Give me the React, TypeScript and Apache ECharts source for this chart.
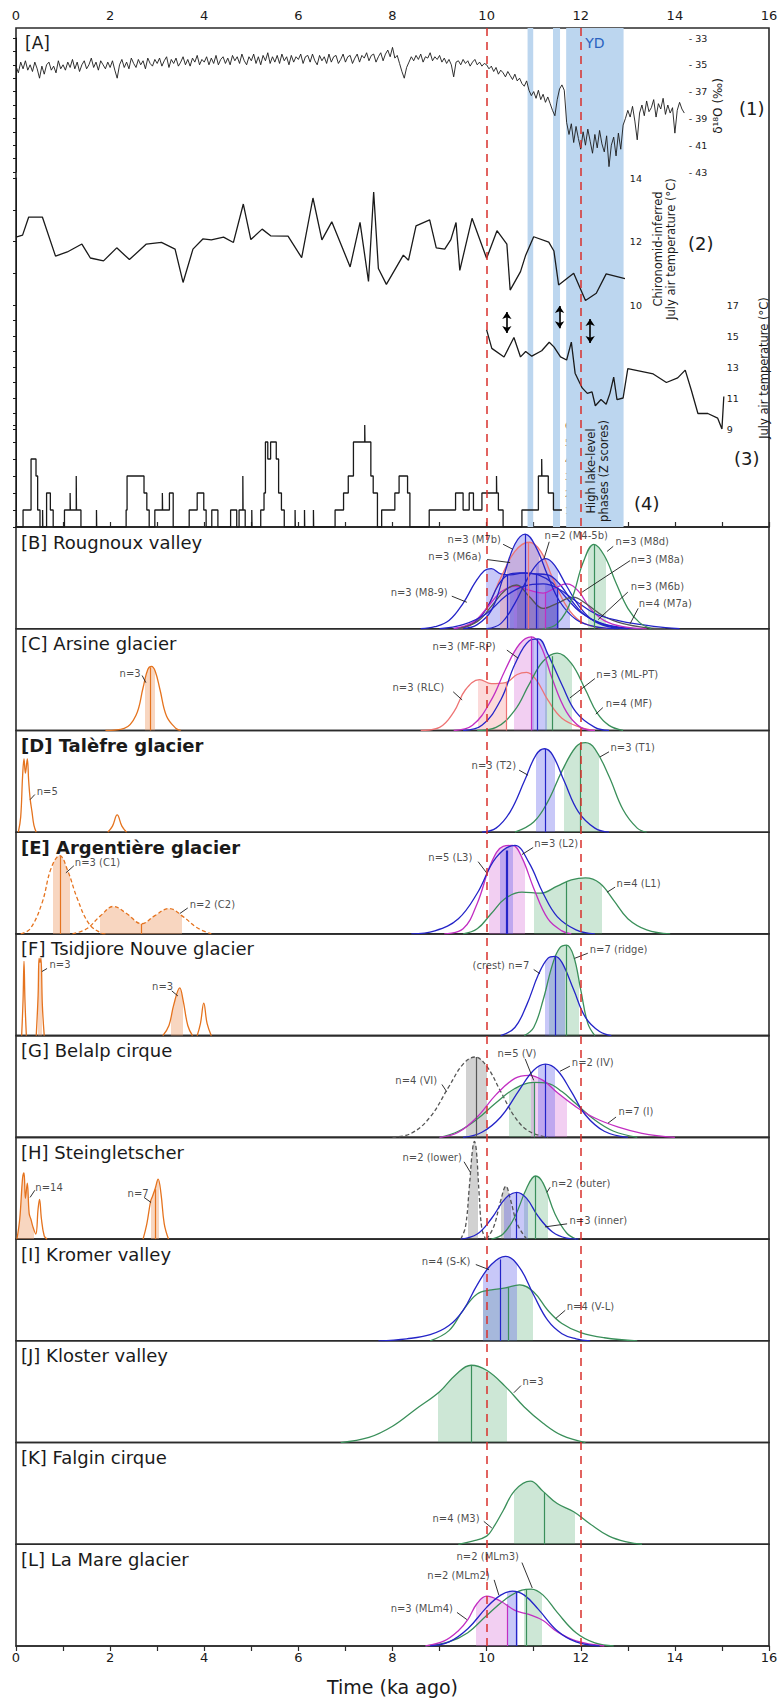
import React, { useEffect, useRef } from "react";
import * as echarts from "echarts";

// ---------------- Panel A data ----------------
const D18O_X0 = 0;
const D18O_DX = 0.05;
const D18O_VALUES = [
  35.1,35.6,34.8,35.3,34.7,35.4,35.0,35.5,34.8,35.3,36.0,35.1,35.7,35.0,34.8,35.4,35.1,35.6,34.7,35.3,
  35.0,35.4,34.8,35.2,34.6,35.3,34.8,35.5,35.0,34.7,35.3,35.0,34.5,35.2,34.8,35.4,34.7,35.0,35.3,34.8,
  35.2,34.7,35.4,36.0,35.0,34.6,35.2,34.8,35.3,34.5,34.9,35.2,34.6,35.0,34.7,35.3,34.5,34.9,35.1,34.6,
  34.9,34.5,35.1,34.7,34.4,35.2,34.6,34.9,34.5,35.1,34.8,34.4,35.0,34.6,35.1,34.5,34.8,34.3,35.0,34.6,
  34.8,34.4,35.0,34.5,34.9,34.3,35.0,34.6,34.4,34.9,34.5,35.0,34.3,34.7,34.4,34.9,34.2,34.7,35.0,34.4,
  34.7,34.2,34.9,34.4,35.0,34.3,34.7,34.1,34.9,34.4,34.8,34.3,34.9,34.2,34.7,34.4,35.0,34.3,34.8,34.4,
  34.6,34.2,34.9,34.4,34.3,34.8,34.2,34.7,35.0,34.3,34.7,34.4,34.9,34.2,34.8,34.4,34.3,34.9,34.6,34.2,
  34.8,34.4,34.3,34.9,34.5,34.2,34.8,34.3,34.5,34.1,34.7,34.3,34.2,34.8,34.4,34.1,34.7,34.2,33.9,34.4,
  33.7,34.5,34.3,34.9,35.5,36.0,35.2,34.8,34.4,34.7,34.3,34.6,34.2,34.8,34.4,34.5,34.1,34.7,34.4,34.6,
  34.3,34.8,34.5,34.9,34.6,35.0,35.9,34.8,34.7,35.0,34.6,34.9,34.7,35.1,34.8,34.6,35.0,34.8,35.1,34.9,
  35.0,35.3,35.1,35.5,35.2,35.7,35.4,35.6,35.9,35.5,35.8,36.1,35.7,36.2,36.0,36.4,36.6,36.2,36.9,37.3,
  37.0,37.5,36.9,37.6,37.2,37.8,37.4,37.9,38.4,38.8,37.6,36.8,36.5,36.9,39.3,40.2,39.4,40.8,39.6,40.5,
  41.3,40.0,41.0,39.8,40.7,41.6,40.2,41.2,39.9,40.9,41.5,40.3,42.6,41.0,40.4,41.8,40.1,41.3,39.5,39.0,
  38.4,38.9,38.1,39.2,40.6,38.6,38.0,38.8,37.7,38.5,38.2,37.6,38.9,37.9,38.3,37.5,38.7,38.0,38.6,38.2,
  40.1,38.4,37.8,38.3,38.6,
];
const CHIRONOMID_T = [
  [0,12.14],[0.14,12.2],[0.27,12.77],[0.56,12.77],[0.84,11.54],[1.09,11.67],[1.4,11.92],[1.58,11.48],
  [1.86,11.39],[2.14,11.8],[2.41,11.43],[2.77,11.92],[3.09,11.97],[3.38,11.76],[3.55,10.71],[3.76,11.76],
  [3.97,12.08],[4.15,12.05],[4.41,12.14],[4.62,11.97],[4.83,13.18],[4.99,12.06],[5.23,12.39],[5.41,12.18],
  [5.78,12.17],[6.07,11.49],[6.31,13.37],[6.5,12.05],[6.71,12.62],[7.1,11.2],[7.31,12.6],[7.49,10.74],
  [7.6,13.56],[7.7,11.15],[7.87,10.65],[8.23,11.57],[8.34,11.41],[8.5,12.49],[8.79,12.68],[8.93,11.8],
  [9.11,11.76],[9.24,12.06],[9.35,12.6],[9.43,11.09],[9.69,12.73],[10.0,11.47],[10.22,12.34],[10.43,11.92],
  [10.5,10.47],[10.72,11.05],[10.83,11.57],[11.0,12.15],[11.32,11.98],[11.43,11.7],[11.53,10.63],[11.85,11.0],
  [12.1,10.14],[12.33,10.37],[12.54,10.98],[12.94,10.83],
];
const JULY_T = [
  [10.0,15.4],[10.11,14.2],[10.37,13.65],[10.58,14.9],[10.72,13.65],[10.83,14.0],[10.96,13.7],[11.17,14.05],
  [11.33,14.6],[11.43,14.3],[11.57,13.65],[11.7,13.45],[11.8,14.6],[11.88,12.6],[12.03,11.65],[12.14,11.3],
  [12.24,11.4],[12.31,10.5],[12.43,10.9],[12.54,10.6],[12.62,11.3],[12.7,12.35],[12.77,10.9],[12.9,11.0],
  [13.0,12.9],[13.54,12.55],[13.82,12.0],[14.06,12.3],[14.22,12.8],[14.35,11.5],[14.49,10.0],[14.7,10.0],
  [14.91,9.7],[15.0,9.0],[15.04,11.1],
];
const LAKE_LEVEL = [
  [0,0],[0.15,1],[0.32,4],[0.425,3],[0.46,1],[0.51,0],[0.565,1],[0.57,0],[0.65,2],[0.73,1],[0.79,0],
  [1.03,1],[1.15,2],[1.155,1],[1.28,3],[1.285,1],[1.38,0],[1.71,1],[1.715,0],[2.34,1],[2.36,3],[2.72,2],
  [2.78,1],[2.83,0],[2.95,1],[3.11,2],[3.115,1],[3.26,2],[3.34,0],[3.68,1],[3.85,2],[3.99,1],[4.04,0],
  [4.16,1],[4.29,0],[4.56,1],[4.69,0],[4.74,1],[4.82,3],[4.825,1],[4.87,0],[5.01,1],[5.015,0],[5.2,1],
  [5.27,2],[5.3,5],[5.35,4],[5.41,5],[5.53,4],[5.58,2],[5.64,1],[5.7,0],[5.93,1],[5.935,0],[6.13,1],
  [6.135,0],[6.32,1],[6.325,0],[6.78,1],[6.96,2],[7.06,3],[7.17,5],[7.41,6],[7.415,5],[7.54,3],[7.59,2],
  [7.68,0],[7.77,1],[8.05,2],[8.14,3],[8.32,2],[8.37,0],[8.78,1],[9.34,2],[9.5,1],[9.63,2],[9.72,1],
  [9.9,2],[10.21,3],[10.215,2],[10.25,1],[10.35,0],[10.75,1],[11.1,3],[11.17,4],[11.175,3],[11.31,2],
  [11.42,1],[11.6,1],
];
const BLUE_BANDS = [[10.87, 10.99], [11.41, 11.56], [11.69, 12.91]];
const REF_AGES = [10, 12];
const ARROWS = [[10.43, 16.55, 15.19], [11.55, 16.94, 15.5], [12.2, 16.1, 14.55]];
const D18O_RANGE = [33, 43];
const CHIRO_RANGE = [10, 14];
const JULY_RANGE = [9, 17];
const LAKE_RANGE = [0, 6];
const SUBAXIS_END_KA = { d18o: 14.23, chiro: 12.98, july: 15.04, lake: 11.6 };

// ---------------- Panels B-L: probability curves [ka, relative density] ----------------
const B_M89 = [[8.6,0],[8.9,0.02],[9.2,0.08],[9.5,0.25],[9.75,0.45],[9.95,0.57],[10.1,0.59],[10.3,0.54],[10.5,0.53],[10.8,0.55],[11.1,0.53],[11.4,0.45],[11.7,0.3],[12.0,0.16],[12.4,0.06],[12.9,0.01],[13.3,0]];
const B_M7B = [[9.5,0],[9.8,0.04],[10.1,0.18],[10.35,0.5],[10.6,0.83],[10.82,0.93],[11.05,0.8],[11.3,0.52],[11.55,0.27],[11.9,0.09],[12.3,0.02],[12.8,0]];
const B_RED = [[9.4,0],[9.7,0.05],[10.0,0.2],[10.3,0.5],[10.6,0.76],[10.9,0.85],[11.15,0.76],[11.4,0.5],[11.7,0.22],[12.0,0.07],[12.4,0.01],[12.7,0]];
const B_M6A = [[9.3,0],[9.7,0.05],[10.0,0.2],[10.25,0.43],[10.45,0.53],[10.7,0.55],[11.0,0.54],[11.3,0.53],[11.55,0.44],[11.8,0.28],[12.1,0.13],[12.5,0.04],[13.0,0]];
const B_M45B = [[10.0,0],[10.3,0.05],[10.6,0.25],[10.9,0.52],[11.1,0.65],[11.26,0.69],[11.45,0.62],[11.7,0.42],[12.0,0.2],[12.3,0.07],[12.7,0.01],[13.0,0]];
const B_M8A = [[9.3,0],[9.7,0.06],[10.0,0.2],[10.3,0.36],[10.6,0.42],[10.9,0.38],[11.2,0.35],[11.45,0.4],[11.7,0.44],[11.95,0.37],[12.2,0.2],[12.5,0.08],[12.9,0.02],[13.4,0]];
const B_M6B = [[9.4,0],[9.8,0.07],[10.1,0.22],[10.4,0.38],[10.64,0.43],[10.9,0.32],[11.2,0.2],[11.5,0.25],[11.84,0.31],[12.1,0.25],[12.5,0.12],[12.9,0.05],[13.4,0.01],[13.8,0]];
const B_M7A = [[9.0,0],[9.5,0.04],[10.0,0.15],[10.4,0.32],[10.8,0.42],[11.2,0.44],[11.5,0.4],[11.9,0.27],[12.3,0.15],[12.8,0.08],[13.3,0.04],[13.8,0.01],[14.1,0]];
const B_M8D = [[11.2,0],[11.5,0.05],[11.8,0.28],[12.05,0.65],[12.28,0.83],[12.5,0.72],[12.75,0.45],[13.0,0.2],[13.25,0.06],[13.5,0]];

const C_N3 = [[1.9,0],[2.3,0.02],[2.55,0.15],[2.7,0.42],[2.8,0.6],[2.88,0.63],[2.96,0.58],[3.06,0.4],[3.2,0.14],[3.4,0.02],[3.5,0]];
const C_RLC = [[8.6,0],[9.0,0.03],[9.3,0.18],[9.55,0.4],[9.85,0.5],[10.1,0.46],[10.4,0.47],[10.65,0.55],[10.85,0.57],[11.05,0.5],[11.3,0.3],[11.6,0.12],[12.0,0.03],[12.3,0]];
const C_MFRP = [[9.3,0],[9.7,0.05],[10.1,0.3],[10.4,0.6],[10.7,0.85],[10.95,0.92],[11.15,0.83],[11.4,0.5],[11.7,0.18],[12.0,0.03],[12.3,0]];
const C_MLPT = [[9.5,0],[9.9,0.05],[10.3,0.3],[10.6,0.65],[10.9,0.88],[11.1,0.9],[11.3,0.75],[11.6,0.45],[11.9,0.18],[12.3,0.03],[12.6,0]];
const C_MF = [[9.8,0],[10.2,0.03],[10.6,0.2],[10.9,0.45],[11.2,0.68],[11.5,0.76],[11.8,0.66],[12.1,0.4],[12.35,0.17],[12.6,0.05],[12.9,0]];

const D_N5 = [[0.05,0],[0.1,0.15],[0.14,0.55],[0.17,0.72],[0.2,0.58],[0.24,0.72],[0.27,0.5],[0.3,0.33],[0.34,0.2],[0.38,0.07],[0.43,0]];
const D_SMALL = [[1.95,0],[2.05,0.06],[2.15,0.17],[2.25,0.06],[2.35,0]];
const D_T2 = [[9.9,0],[10.2,0.04],[10.5,0.2],[10.8,0.5],[11.05,0.76],[11.23,0.82],[11.4,0.76],[11.65,0.5],[11.95,0.2],[12.3,0.04],[12.6,0]];
const D_T1 = [[10.6,0],[11.0,0.1],[11.3,0.3],[11.6,0.6],[11.9,0.84],[12.1,0.88],[12.3,0.82],[12.6,0.55],[12.9,0.22],[13.2,0.04],[13.4,0]];

const E_C1 = [[0.1,0],[0.3,0.05],[0.55,0.3],[0.75,0.65],[0.93,0.77],[1.1,0.62],[1.3,0.35],[1.55,0.1],[1.8,0.01],[1.9,0]];
const E_C2 = [[1.2,0],[1.5,0.05],[1.8,0.18],[2.07,0.27],[2.35,0.2],[2.67,0.1],[2.95,0.18],[3.25,0.25],[3.55,0.17],[3.85,0.06],[4.15,0]];
const E_L3 = [[9.1,0],[9.5,0.05],[9.8,0.3],[10.1,0.7],[10.35,0.86],[10.55,0.87],[10.75,0.75],[11.0,0.45],[11.3,0.15],[11.6,0.03],[11.8,0]];
const E_L2 = [[8.4,0],[8.9,0.03],[9.4,0.15],[9.8,0.4],[10.2,0.75],[10.6,0.87],[10.9,0.7],[11.2,0.4],[11.5,0.17],[11.9,0.04],[12.3,0]];
const E_L1 = [[9.5,0],[9.8,0.05],[10.1,0.2],[10.4,0.35],[10.75,0.41],[11.15,0.4],[11.5,0.47],[11.8,0.53],[12.1,0.55],[12.4,0.5],[12.7,0.33],[13.0,0.15],[13.4,0.04],[13.9,0]];

const F_A = [[0.12,0],[0.15,0.35],[0.17,0.73],[0.19,0.35],[0.22,0]];
const F_B = [[0.43,0],[0.47,0.4],[0.49,0.76],[0.51,0.72],[0.53,0.76],[0.56,0.3],[0.6,0]];
const F_C = [[3.12,0],[3.25,0.1],[3.35,0.3],[3.48,0.47],[3.55,0.35],[3.65,0.1],[3.75,0]];
const F_D = [[3.85,0],[3.92,0.12],[3.99,0.32],[4.06,0.12],[4.15,0]];
const F_CREST = [[10.3,0],[10.6,0.08],[10.85,0.3],[11.1,0.6],[11.3,0.76],[11.45,0.78],[11.6,0.72],[11.85,0.45],[12.1,0.18],[12.4,0.04],[12.65,0]];
const F_RIDGE = [[10.8,0],[11.0,0.08],[11.2,0.35],[11.4,0.7],[11.55,0.86],[11.7,0.89],[11.85,0.78],[12.0,0.45],[12.15,0.12],[12.3,0]];

const G_VI = [[8.0,0],[8.4,0.04],[8.8,0.2],[9.2,0.5],[9.5,0.72],[9.75,0.79],[10.0,0.7],[10.3,0.45],[10.6,0.2],[10.9,0.06],[11.3,0]];
const G_I = [[9.0,0],[9.4,0.05],[9.8,0.2],[10.2,0.42],[10.6,0.58],[10.9,0.61],[11.2,0.56],[11.5,0.44],[11.9,0.3],[12.3,0.19],[12.8,0.1],[13.3,0.04],[14.0,0]];
const G_V = [[9.0,0],[9.4,0.06],[9.8,0.18],[10.2,0.34],[10.6,0.48],[11.0,0.54],[11.3,0.53],[11.6,0.45],[11.9,0.33],[12.3,0.17],[12.7,0.06],[13.2,0]];
const G_IV = [[9.5,0],[9.9,0.05],[10.3,0.2],[10.7,0.47],[11.0,0.66],[11.25,0.72],[11.5,0.66],[11.8,0.45],[12.1,0.22],[12.5,0.06],[13.0,0]];

const H_N14 = [[0.02,0],[0.08,0.2],[0.14,0.6],[0.17,0.65],[0.2,0.4],[0.24,0.55],[0.28,0.25],[0.32,0.19],[0.36,0.12],[0.42,0.05],[0.47,0.3],[0.5,0.39],[0.54,0.2],[0.6,0.03],[0.66,0]];
const H_N7 = [[2.7,0],[2.78,0.15],[2.86,0.37],[2.9,0.42],[2.96,0.5],[3.02,0.59],[3.08,0.45],[3.15,0.15],[3.24,0]];
const H_LOWER1 = [[9.45,0],[9.55,0.12],[9.63,0.5],[9.7,0.88],[9.74,0.96],[9.78,0.88],[9.84,0.45],[9.9,0.1],[9.98,0]];
const H_LOWER2 = [[10.0,0],[10.15,0.12],[10.3,0.38],[10.41,0.52],[10.5,0.4],[10.65,0.15],[10.85,0]];
const H_INNER = [[9.45,0],[9.8,0.05],[10.1,0.2],[10.4,0.4],[10.64,0.46],[10.85,0.4],[11.1,0.22],[11.4,0.07],[11.7,0.01],[11.95,0]];
const H_OUTER = [[10.1,0],[10.35,0.05],[10.6,0.22],[10.85,0.5],[11.04,0.62],[11.2,0.55],[11.45,0.25],[11.7,0.06],[11.9,0]];

const I_SK = [[7.7,0],[8.3,0.02],[8.8,0.06],[9.2,0.15],[9.5,0.3],[9.8,0.55],[10.1,0.75],[10.4,0.83],[10.7,0.72],[11.0,0.45],[11.3,0.2],[11.6,0.07],[11.9,0.02],[12.2,0]];
const I_VL = [[8.8,0],[9.2,0.1],[9.5,0.3],[9.8,0.46],[10.1,0.5],[10.4,0.52],[10.7,0.55],[11.0,0.48],[11.3,0.3],[11.6,0.17],[12.0,0.08],[12.5,0.03],[13.2,0]];

const J_N3 = [[6.9,0],[7.5,0.05],[8.0,0.16],[8.5,0.33],[9.0,0.5],[9.35,0.67],[9.67,0.76],[10.0,0.71],[10.4,0.55],[10.8,0.35],[11.2,0.19],[11.6,0.07],[12.1,0]];
const K_M3 = [[9.4,0],[9.7,0.03],[10.0,0.08],[10.15,0.17],[10.35,0.33],[10.6,0.53],[10.93,0.62],[11.2,0.52],[11.5,0.4],[11.85,0.32],[12.2,0.2],[12.6,0.08],[13.0,0.02],[13.3,0]];

const L_MLM4 = [[8.7,0],[9.1,0.05],[9.4,0.15],[9.6,0.26],[9.8,0.42],[10.0,0.49],[10.3,0.44],[10.6,0.35],[10.9,0.31],[11.2,0.25],[11.5,0.14],[11.9,0.05],[12.5,0]];
const L_MLM2 = [[8.8,0],[9.2,0.04],[9.6,0.17],[10.0,0.38],[10.3,0.5],[10.55,0.54],[10.8,0.5],[11.1,0.36],[11.5,0.15],[11.9,0.04],[12.4,0]];
const L_MLM3 = [[8.7,0],[9.2,0.04],[9.6,0.13],[10.0,0.3],[10.4,0.46],[10.75,0.55],[10.95,0.56],[11.2,0.5],[11.5,0.33],[11.9,0.13],[12.3,0.03],[12.7,0]];

const PANEL_TITLES = [
  "[B] Rougnoux valley", "[C] Arsine glacier", "[D] Talèfre glacier", "[E] Argentière glacier",
  "[F] Tsidjiore Nouve glacier", "[G] Belalp cirque", "[H] Steingletscher", "[I] Kromer valley",
  "[J] Kloster valley", "[K] Falgin cirque", "[L] La Mare glacier",
];
const BOLD_PANELS = [2, 3];

// curve -> panel, colour family, shaded age range, and mean age with the curve's density there
const CURVES: any[] = [
  { p: 0, d: B_M89, c: "blue", fill: [9.99, 10.9], mean: [10.44, 0.53] },
  { p: 0, d: B_RED, c: "salmon", fill: [10.3, 11.45], mean: [10.89, 0.85] },
  { p: 0, d: B_M6A, c: "blue", fill: [10.5, 11.5], mean: [11.06, 0.54] },
  { p: 0, d: B_M8A, c: "magenta", fill: [10.6, 11.25], mean: [11.25, 0.36] },
  { p: 0, d: B_M6B, c: "gray", fill: [10.65, 11.5] },
  { p: 0, d: B_M7A, c: "blue", fill: [11.25, 11.75], mean: [11.5, 0.4] },
  { p: 0, d: B_M45B, c: "blue", fill: [11.06, 11.5] },
  { p: 0, d: B_M7B, c: "blue", fill: [10.45, 11.1], mean: [10.82, 0.93] },
  { p: 0, d: B_M8D, c: "green", fill: [12.16, 12.5], mean: [12.28, 0.83] },
  { p: 1, d: C_N3, c: "orange", fill: [2.75, 2.93], mean: [2.85, 0.62] },
  { p: 1, d: C_RLC, c: "salmon", fill: [9.83, 10.41], mean: [10.41, 0.47] },
  { p: 1, d: C_MF, c: "green", fill: [11.25, 11.8], mean: [11.4, 0.73] },
  { p: 1, d: C_MFRP, c: "magenta", fill: [10.6, 11.0], mean: [10.95, 0.92] },
  { p: 1, d: C_MLPT, c: "blue", fill: [10.95, 11.25], mean: [11.08, 0.9] },
  { p: 2, d: D_N5, c: "orange" },
  { p: 2, d: D_SMALL, c: "orange" },
  { p: 2, d: D_T1, c: "green", fill: [11.66, 12.38], mean: [11.99, 0.86] },
  { p: 2, d: D_T2, c: "blue", fill: [11.06, 11.43], mean: [11.24, 0.82] },
  { p: 3, d: E_C1, c: "orange", dashed: true, fill: [0.8, 1.12], mean: [0.93, 0.77] },
  { p: 3, d: E_C2, c: "orange", dashed: true, fill: [1.79, 3.51], mean: [2.67, 0.1] },
  { p: 3, d: E_L1, c: "green", fill: [11.01, 12.43], mean: [11.69, 0.51] },
  { p: 3, d: E_L3, c: "magenta", fill: [10.06, 10.8] },
  { p: 3, d: E_L2, c: "blue", fill: [10.3, 10.55], mean: [10.43, 0.82], meanWidth: 2.2 },
  { p: 4, d: F_A, c: "orange" },
  { p: 4, d: F_B, c: "orange", fill: [0.47, 0.53] },
  { p: 4, d: F_C, c: "orange", fill: [3.3, 3.52] },
  { p: 4, d: F_D, c: "orange" },
  { p: 4, d: F_RIDGE, c: "green", fill: [11.33, 11.93], mean: [11.69, 0.89] },
  { p: 4, d: F_CREST, c: "blue", fill: [11.25, 11.64], mean: [11.45, 0.78] },
  { p: 5, d: G_VI, c: "gray", dashed: true, fill: [9.58, 10.0], mean: [9.77, 0.79] },
  { p: 5, d: G_V, c: "green", fill: [10.48, 11.01], mean: [11.01, 0.54] },
  { p: 5, d: G_I, c: "magenta", fill: [10.95, 11.69] },
  { p: 5, d: G_IV, c: "blue", fill: [11.11, 11.43], mean: [11.25, 0.72] },
  { p: 6, d: H_N14, c: "orange", fill: [0.05, 0.35] },
  { p: 6, d: H_N7, c: "orange", fill: [2.88, 3.02], mean: [2.95, 0.49] },
  { p: 6, d: H_LOWER1, c: "gray", dashed: true, fill: [9.62, 9.8] },
  { p: 6, d: H_LOWER2, c: "gray", dashed: true, fill: [10.32, 10.5] },
  { p: 6, d: H_OUTER, c: "green", fill: [10.8, 11.28], mean: [11.04, 0.62] },
  { p: 6, d: H_INNER, c: "blue", fill: [10.37, 10.85], mean: [10.64, 0.46] },
  { p: 7, d: I_VL, c: "green", fill: [9.94, 10.97], mean: [10.45, 0.525] },
  { p: 7, d: I_SK, c: "blue", fill: [9.94, 10.64], mean: [10.3, 0.8] },
  { p: 8, d: J_N3, c: "green", fill: [8.97, 10.41], mean: [9.67, 0.76] },
  { p: 9, d: K_M3, c: "green", fill: [10.59, 11.85], mean: [11.22, 0.51] },
  { p: 10, d: L_MLM3, c: "green", fill: [10.81, 11.16], mean: [10.84, 0.555] },
  { p: 10, d: L_MLM4, c: "magenta", fill: [9.79, 10.43], mean: [10.43, 0.41] },
  { p: 10, d: L_MLM2, c: "blue", fill: [10.45, 10.65], mean: [10.64, 0.53] },
];

// [text, textKa, textH, leaderKa1, leaderH1, leaderKa2, leaderH2]
const ANNOTATIONS: any[][] = [
  [
    ["n=3 (M7b)", 9.16, 0.875, 10.35, 0.83, 10.56, 0.78],
    ["n=2 (M4-5b)", 11.22, 0.915, 11.33, 0.855, 11.22, 0.69],
    ["n=3 (M8d)", 12.73, 0.855, 12.69, 0.81, 12.56, 0.76],
    ["n=3 (M6a)", 8.75, 0.71, 10.01, 0.68, 10.5, 0.65],
    ["n=3 (M8a)", 13.05, 0.68, 13.05, 0.67, 12.03, 0.36],
    ["n=3 (M8-9)", 7.95, 0.36, 9.26, 0.32, 9.58, 0.26],
    ["n=3 (M6b)", 13.05, 0.42, 13.0, 0.36, 12.37, 0.09],
    ["n=4 (M7a)", 13.22, 0.245, 13.22, 0.2, 13.05, 0.05],
  ],
  [
    ["n=3 (MF-RP)", 8.84, 0.826, 10.43, 0.79, 10.67, 0.71],
    ["n=3 (RLC)", 7.99, 0.42, 9.29, 0.38, 9.48, 0.3],
    ["n=3 (ML-PT)", 12.32, 0.55, 12.3, 0.51, 11.77, 0.32],
    ["n=4 (MF)", 12.52, 0.265, 12.47, 0.225, 12.32, 0.16],
    ["n=3", 2.19, 0.56, 2.68, 0.54, 2.76, 0.47],
  ],
  [
    ["n=5", 0.43, 0.4, 0.4, 0.37, 0.3, 0.32],
    ["n=3 (T2)", 9.67, 0.66, 10.69, 0.61, 10.88, 0.56],
    ["n=3 (T1)", 12.62, 0.835, 12.6, 0.79, 12.41, 0.74],
  ],
  [
    ["n=3 (C1)", 1.24, 0.7, 1.23, 0.67, 1.06, 0.6],
    ["n=2 (C2)", 3.68, 0.285, 3.65, 0.255, 3.48, 0.2],
    ["n=5 (L3)", 8.75, 0.75, 9.82, 0.71, 10.0, 0.6],
    ["n=3 (L2)", 11.0, 0.885, 10.99, 0.85, 10.75, 0.78],
    ["n=4 (L1)", 12.75, 0.5, 12.73, 0.46, 12.56, 0.41],
  ],
  [
    ["n=3", 0.7, 0.7, 0.66, 0.66, 0.55, 0.63],
    ["n=3", 2.88, 0.48, 3.31, 0.44, 3.44, 0.39],
    ["(crest) n=7", 9.69, 0.69, 11.0, 0.65, 11.13, 0.61],
    ["n=7 (ridge)", 12.18, 0.85, 12.15, 0.81, 11.87, 0.76],
  ],
  [
    ["n=4 (VI)", 8.05, 0.56, 9.05, 0.52, 9.15, 0.45],
    ["n=5 (V)", 10.22, 0.82, 10.82, 0.77, 11.0, 0.56],
    ["n=2 (IV)", 11.8, 0.74, 11.77, 0.7, 11.56, 0.65],
    ["n=7 (I)", 12.79, 0.25, 12.75, 0.2, 12.58, 0.14],
  ],
  [
    ["n=14", 0.4, 0.51, 0.4, 0.48, 0.3, 0.41],
    ["n=7", 2.36, 0.45, 2.72, 0.41, 2.87, 0.36],
    ["n=2 (lower)", 8.2, 0.8, 9.52, 0.76, 9.65, 0.66],
    ["n=2 (outer)", 11.37, 0.55, 11.35, 0.51, 11.28, 0.46],
    ["n=3 (inner)", 11.75, 0.185, 11.71, 0.15, 11.24, 0.12],
  ],
  [
    ["n=4 (S-K)", 8.61, 0.78, 9.77, 0.75, 10.05, 0.7],
    ["n=4 (V-L)", 11.69, 0.34, 11.67, 0.3, 11.47, 0.22],
  ],
  [["n=3", 10.75, 0.6, 10.73, 0.56, 10.58, 0.49]],
  [["n=4 (M3)", 8.84, 0.255, 9.94, 0.225, 10.11, 0.16]],
  [
    ["n=2 (MLm3)", 9.35, 0.875, 10.75, 0.82, 10.97, 0.57],
    ["n=2 (MLm2)", 8.73, 0.69, 10.16, 0.65, 10.26, 0.5],
    ["n=3 (MLm4)", 7.95, 0.365, 9.37, 0.33, 9.58, 0.26],
  ],
];

// ---------------- styling / layout ----------------
const FONT = "DejaVu Sans";
const INK = "#1a1a1a";
const FRAME = "#2b2b2b";
const STYLE: any = {
  blue: { line: "#2424c8", fill: "rgba(85,85,232,0.32)" },
  green: { line: "#3a8f5a", fill: "rgba(70,165,105,0.27)" },
  magenta: { line: "#c22ec2", fill: "rgba(215,110,215,0.33)" },
  salmon: { line: "#ee7474", fill: "rgba(245,140,140,0.32)" },
  gray: { line: "#555555", fill: "rgba(120,120,120,0.34)" },
  orange: { line: "#e5731e", fill: "rgba(240,165,115,0.45)" },
};
const PL = 16;
const PW = 753;
const PX_PER_KA = PW / 16;
const A_TOP = 28;
const A_H = 499;
const P_TOP = 527;
const P_BOTTOM = 1646;
const P_H = (P_BOTTOM - P_TOP) / PANEL_TITLES.length;
const SMOOTH = 0.4;
const HIDDEN_STROKE = { width: 0.001, opacity: 0 };
const px = (k: number) => PL + k * PX_PER_KA;

function buildOption() {
  const grid: any[] = [];
  const xAxis: any[] = [];
  const yAxis: any[] = [];
  const series: any[] = [];
  const graphic: any[] = [];
  const add = (g: any, xa: any, ya: any) => {
    const i = grid.length;
    grid.push({ containLabel: false, outerBoundsMode: "none", ...g });
    xAxis.push({ gridIndex: i, ...xa });
    yAxis.push({ gridIndex: i, ...ya });
    return i;
  };
  const hx = (min: number, max: number) => ({ type: "value", min, max, show: false });
  const hy = (min = 0, max = 1) => ({ type: "value", min, max, show: false });
  const frame = { show: true, borderColor: FRAME, borderWidth: 1.6, backgroundColor: "transparent" };
  const tickAxis = (position: string) => ({
    type: "value", position, min: 0, max: 16, interval: 1,
    axisLine: { show: true, lineStyle: { color: FRAME, width: 1.6 } },
    axisTick: { show: true, length: 5, lineStyle: { color: FRAME, width: 1.2 } },
    axisLabel: { color: INK, fontSize: 13, fontFamily: FONT, margin: position === "top" ? 6 : 5,
      formatter: (v: number) => (v % 2 === 0 ? String(v) : "") },
    splitLine: { show: false },
  });
  const sideAxis = (min: number, max: number, show: (v: number) => boolean, fmt: (v: number) => string, inverse = false) => ({
    type: "value", position: "right", min, max, interval: 1, inverse,
    axisLine: { show: true, lineStyle: { color: INK, width: 1 } },
    axisTick: { show: true, inside: true, length: 3, lineStyle: { color: INK, width: 1 } },
    axisLabel: { color: INK, fontSize: 9.5, fontFamily: FONT, margin: 3, formatter: (v: number) => (show(v) ? fmt(v) : "") },
    splitLine: { show: false },
  });

  // ---- panel A frame + bands
  const gA = add({ left: PL, top: A_TOP, width: PW, height: A_H, ...frame }, tickAxis("top"), hy());
  series.push({
    type: "line", xAxisIndex: gA, yAxisIndex: gA, data: [], silent: true, z: 0,
    markArea: {
      silent: true, itemStyle: { color: "#bcd6ef" }, label: { show: false },
      data: BLUE_BANDS.map(([a, b], i) => [
        i === BLUE_BANDS.length - 1
          ? { xAxis: a, name: "YD", label: { show: true, position: "insideTop", distance: 8, color: "#2a62c0", fontSize: 14, fontFamily: FONT } }
          : { xAxis: a },
        { xAxis: b },
      ]),
    },
  });

  // (1) d18O
  const gD = add({ left: PL, top: 38, width: px(SUBAXIS_END_KA.d18o) - PL, height: 134 }, hx(0, SUBAXIS_END_KA.d18o),
    sideAxis(D18O_RANGE[0], D18O_RANGE[1], (v) => v % 2 === 1, (v) => "- " + v, true));
  series.push({ type: "line", xAxisIndex: gD, yAxisIndex: gD, silent: true, z: 3, symbol: "none",
    data: D18O_VALUES.map((v, i) => [D18O_X0 + i * D18O_DX, v]), lineStyle: { color: INK, width: 0.9 } });

  // (2) chironomid
  const gC = add({ left: PL, top: 178, width: px(SUBAXIS_END_KA.chiro) - PL, height: 127 }, hx(0, SUBAXIS_END_KA.chiro),
    sideAxis(CHIRO_RANGE[0], CHIRO_RANGE[1], (v) => v % 2 === 0, (v) => String(v)));
  series.push({ type: "line", xAxisIndex: gC, yAxisIndex: gC, silent: true, z: 3, symbol: "none",
    data: CHIRONOMID_T, lineStyle: { color: INK, width: 1.3 } });

  // (3) July air temperature
  const gJ = add({ left: PL, top: 305, width: px(SUBAXIS_END_KA.july) - PL, height: 124 }, hx(0, SUBAXIS_END_KA.july),
    sideAxis(JULY_RANGE[0], JULY_RANGE[1], (v) => v % 2 === 1, (v) => String(v)));
  series.push({ type: "line", xAxisIndex: gJ, yAxisIndex: gJ, silent: true, z: 3, symbol: "none",
    data: JULY_T, lineStyle: { color: INK, width: 1.3 },
    markLine: { silent: true, symbol: ["arrow", "arrow"], symbolSize: 7, label: { show: false },
      lineStyle: { color: "#000", width: 1.6, type: "solid" },
      data: ARROWS.map(([x, a, b]) => [{ coord: [x, a] }, { coord: [x, b] }]) } });

  // (4) lake level
  const gL = add({ left: PL, top: 425, width: px(SUBAXIS_END_KA.lake) - PL, height: 102 }, hx(0, SUBAXIS_END_KA.lake),
    sideAxis(LAKE_RANGE[0], LAKE_RANGE[1], (v) => v >= 1, (v) => String(v)));
  series.push({ type: "line", xAxisIndex: gL, yAxisIndex: gL, silent: true, z: 3, symbol: "none", step: "end",
    data: LAKE_LEVEL, lineStyle: { color: INK, width: 1.3 } });

  // panel A texts
  const t = (text: string, x: number, y: number, size: number, rot = 0, extra: any = {}) =>
    graphic.push({ type: "text", x, y, rotation: rot, z: 20, silent: true,
      style: { text, fill: INK, fontSize: size, fontFamily: FONT, align: rot ? "center" : "left", verticalAlign: "middle", ...extra } });
  t("[A]", 25, 43, 17);
  t("δ¹⁸O (‰)", 718, 106, 12, Math.PI / 2);
  t("(1)", 739, 108, 18);
  t("Chironomid-inferred", 658, 249, 11.5, Math.PI / 2);
  t("July air temperature (°C)", 671, 249, 11.5, Math.PI / 2);
  t("(2)", 688, 243, 18);
  t("July air temperature (°C)", 764, 368, 11.5, Math.PI / 2);
  t("(3)", 734, 458, 18);
  t("High lake-level", 591, 471, 11.5, Math.PI / 2);
  t("phases (Z scores)", 604, 471, 11.5, Math.PI / 2);
  t("(4)", 634, 503, 18);

  // ---- panels B-L
  const panelGrid: number[] = [];
  PANEL_TITLES.forEach((title, i) => {
    const top = P_TOP + i * P_H;
    const last = i === PANEL_TITLES.length - 1;
    const xa = last
      ? { ...tickAxis("bottom"), name: "Time (ka ago)", nameLocation: "middle", nameGap: 31,
          nameTextStyle: { fontSize: 19, color: INK, fontFamily: FONT } }
      : hx(0, 16);
    panelGrid[i] = add({ left: PL, top, width: PW, height: P_H, ...frame }, xa, hy());
    t(title, 21, top + 15, 18, 0, BOLD_PANELS.includes(i) ? { fontWeight: "bold" } : {});
  });

  CURVES.forEach((c) => {
    const gi = panelGrid[c.p];
    const top = P_TOP + c.p * P_H;
    const st = STYLE[c.c];
    if (c.fill) {
      const [a, b] = c.fill;
      const fg = add({ left: px(a), top, width: px(b) - px(a), height: P_H }, hx(a, b), hy());
      series.push({ type: "line", xAxisIndex: fg, yAxisIndex: fg, data: c.d, smooth: SMOOTH, symbol: "none",
        silent: true, z: 1, lineStyle: HIDDEN_STROKE, areaStyle: { color: st.fill, opacity: 1 } });
    }
    const s: any = { type: "line", xAxisIndex: gi, yAxisIndex: gi, data: c.d, smooth: SMOOTH, symbol: "none",
      silent: true, z: 4, lineStyle: { color: st.line, width: 1.3, type: c.dashed ? [4, 2.5] : "solid" } };
    if (c.mean) {
      s.markLine = { silent: true, symbol: ["none", "none"], label: { show: false },
        lineStyle: { color: st.line, width: c.meanWidth || 1.2, type: "solid", opacity: 1 },
        data: [[{ coord: [c.mean[0], 0] }, { coord: [c.mean[0], c.mean[1]] }]] };
    }
    series.push(s);
  });

  ANNOTATIONS.forEach((list, i) => {
    if (!list.length) return;
    const gi = panelGrid[i];
    series.push({
      type: "scatter", xAxisIndex: gi, yAxisIndex: gi, silent: true, z: 6, symbolSize: 1,
      itemStyle: { color: "rgba(0,0,0,0)" },
      data: list.map((a) => ({ name: a[0], value: [a[1], a[2]] })),
      label: { show: true, position: "right", distance: 0, formatter: "{b}", fontSize: 10, color: INK, fontFamily: FONT },
      markLine: { silent: true, symbol: ["none", "none"], label: { show: false },
        lineStyle: { color: INK, width: 0.9, type: "solid" },
        data: list.map((a) => [{ coord: [a[3], a[4]] }, { coord: [a[5], a[6]] }]) },
    });
  });

  // ---- reference ages (red dashed) across all panels
  const gO = add({ left: PL, top: A_TOP, width: PW, height: P_BOTTOM - A_TOP }, hx(0, 16), hy());
  series.push({ type: "line", xAxisIndex: gO, yAxisIndex: gO, data: [], silent: true, z: 10,
    markLine: { silent: true, symbol: ["none", "none"], label: { show: false },
      lineStyle: { color: "#d9302c", width: 1.5, type: [8, 6] },
      data: REF_AGES.map((a) => ({ xAxis: a })) } });

  return {
    animation: false,
    backgroundColor: "#ffffff",
    textStyle: { fontFamily: FONT },
    grid, xAxis, yAxis, series, graphic,
  };
}

export default function App() {
  const ref = useRef<HTMLDivElement>(null);
  useEffect(() => {
    const el = ref.current!;
    const chart = echarts.init(el, undefined, { renderer: "svg", width: 779, height: 1699 });
    chart.setOption(buildOption() as any);
    return () => chart.dispose();
  }, []);
  return <div ref={ref} style={{ position: "absolute", left: 0, top: 0, width: 779, height: 1699 }} />;
}
